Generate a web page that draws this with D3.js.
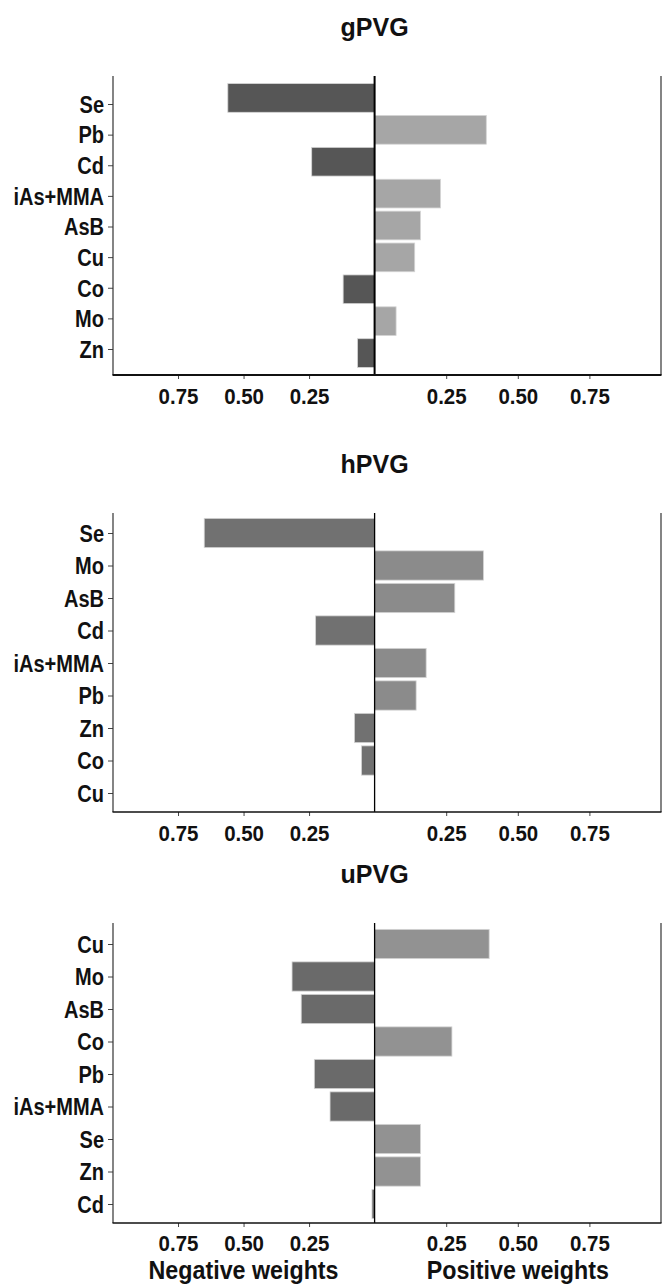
<!DOCTYPE html>
<html>
<head>
<meta charset="utf-8">
<script src="https://cdn.jsdelivr.net/npm/d3@7"></script>
<style>
  body { margin: 0; background: #fff; }
  svg text { font-family: "Liberation Sans", Arial, sans-serif; font-weight: bold; fill: #111; }
</style>
</head>
<body>
<svg id="canvas" width="667" height="1286"></svg>
<script>
// panel titles
let titles = ['gPVG', 'hPVG', 'uPVG']

// elements per panel, top to bottom (negative = left side)
let gCats = ['Se', 'Pb', 'Cd', 'iAs+MMA', 'AsB', 'Cu', 'Co', 'Mo', 'Zn']
let gVals = [-0.56, 0.39, -0.24, 0.23, 0.16, 0.14, -0.12, 0.075, -0.065]

let hCats = ['Se', 'Mo', 'AsB', 'Cd', 'iAs+MMA', 'Pb', 'Zn', 'Co', 'Cu']
let hVals = [-0.65, 0.38, 0.28, -0.225, 0.18, 0.145, -0.077, -0.05, 0]

let uCats = ['Cu', 'Mo', 'AsB', 'Co', 'Pb', 'iAs+MMA', 'Se', 'Zn', 'Cd']
let uVals = [0.40, -0.315, -0.28, 0.27, -0.23, -0.17, 0.16, 0.16, -0.01]

let tickVals = [0.25, 0.50, 0.75]
let sideTitles = ['Negative weights', 'Positive weights']

let canvas = d3.select('#canvas')

// x scales are shared by all three panels
let xNeg = d3.scaleLinear().domain([0, 1]).range([374.6, 112.5])
let xPos = d3.scaleLinear().domain([0, 1]).range([374.6, 661])

// where each panel sits on the page
let layout = [
    { cats: gCats, vals: gVals, top: 76, bottom: 375, bars: [82, 369], labels: [104, 349], titleY: 36,
      neg: '#565656', pos: '#a6a6a6', line: 2, pad: 9 },
    { cats: hCats, vals: hVals, top: 513, bottom: 812, bars: [516.75, 809.25], labels: null, titleY: 473,
      neg: '#717171', pos: '#8b8b8b', line: 1.3, pad: 9 },
    { cats: uCats, vals: uVals, top: 923, bottom: 1223, bars: [927.75, 1220.25], labels: null, titleY: 883,
      neg: '#6a6a6a', pos: '#929292', line: 1.3, pad: 8 }
]

// squeeze a text horizontally, the reference labels look condensed
let condense = (sel, k) => {
    sel.each(function () {
        let w = this.getComputedTextLength()
        d3.select(this).attr('textLength', w * k).attr('lengthAdjust', 'spacingAndGlyphs')
    })
}

let drawPanel = (p, i) => {
    let g = canvas.append('g')

    let yBar = d3.scaleBand().domain(p.cats).range(p.bars).paddingInner(0.1).paddingOuter(0.05)
    let labRange = p.labels || [yBar(p.cats[0]) + yBar.bandwidth() / 2, yBar(p.cats[p.cats.length - 1]) + yBar.bandwidth() / 2]
    let yLab = d3.scalePoint().domain(p.cats).range(labRange)

    // bars
    g.selectAll('rect')
        .data(p.cats.map((c, j) => ({ cat: c, v: p.vals[j] })))
        .enter()
        .append('rect')
        .attr('x', (d) => d.v < 0 ? xNeg(-d.v) : xPos(0))
        .attr('width', (d) => d.v < 0 ? xNeg(0) - xNeg(-d.v) : xPos(d.v) - xPos(0))
        .attr('y', (d) => yBar(d.cat))
        .attr('height', yBar.bandwidth())
        .attr('fill', (d) => d.v < 0 ? p.neg : p.pos)
        .attr('stroke', (d) => d.v === 0 ? 'none' : '#d4d4d4')
        .attr('stroke-width', 0.8)

    // left axis with element names
    let yAxis = g.append('g')
        .attr('transform', 'translate(113,0)')
        .call(d3.axisLeft(yLab).tickSize(5).tickPadding(4))
    yAxis.select('.domain').remove()
    yAxis.selectAll('line').attr('stroke', '#444')
    yAxis.selectAll('text').style('font-size', '23px').attr('dy', '0.36em').call(condense, 0.87)

    // bottom axes, one per side
    let fmt = d3.format('.2f')
    ;[xNeg, xPos].forEach((x) => {
        let ax = g.append('g')
            .attr('transform', 'translate(0,' + p.bottom + ')')
            .call(d3.axisBottom(x).tickValues(tickVals).tickFormat(fmt).tickSize(4).tickPadding(p.pad))
        ax.select('.domain').remove()
        ax.selectAll('line').attr('stroke', '#444')
        ax.selectAll('text').style('font-size', '22px').call(condense, 0.93)
    })

    // frame lines
    g.append('line').attr('x1', 113).attr('x2', 113).attr('y1', p.top).attr('y2', p.bottom)
        .attr('stroke', '#333').attr('stroke-width', 1.2)
    g.append('line').attr('x1', 661).attr('x2', 661).attr('y1', p.top).attr('y2', p.bottom)
        .attr('stroke', '#333').attr('stroke-width', 1.2)
    g.append('line').attr('x1', xPos(0)).attr('x2', xPos(0)).attr('y1', p.top).attr('y2', p.bottom)
        .attr('stroke', '#000').attr('stroke-width', p.line)
    g.append('line').attr('x1', 112.5).attr('x2', 661.5).attr('y1', p.bottom).attr('y2', p.bottom)
        .attr('stroke', '#111').attr('stroke-width', p.line)

    // panel title
    g.append('text')
        .attr('x', xPos(0))
        .attr('y', p.titleY)
        .attr('text-anchor', 'middle')
        .style('font-size', '25px')
        .text(titles[i])
}

layout.forEach(drawPanel)

// side titles under the last panel
canvas.selectAll('text.side')
    .data(sideTitles)
    .enter()
    .append('text')
    .attr('class', 'side')
    .attr('x', (d, i) => i === 0 ? xNeg(0.5) : xPos(0.5))
    .attr('y', 1279)
    .attr('text-anchor', 'middle')
    .style('font-size', '25px')
    .text((d) => d)
    .call(condense, 0.93)
</script>
</body>
</html>
